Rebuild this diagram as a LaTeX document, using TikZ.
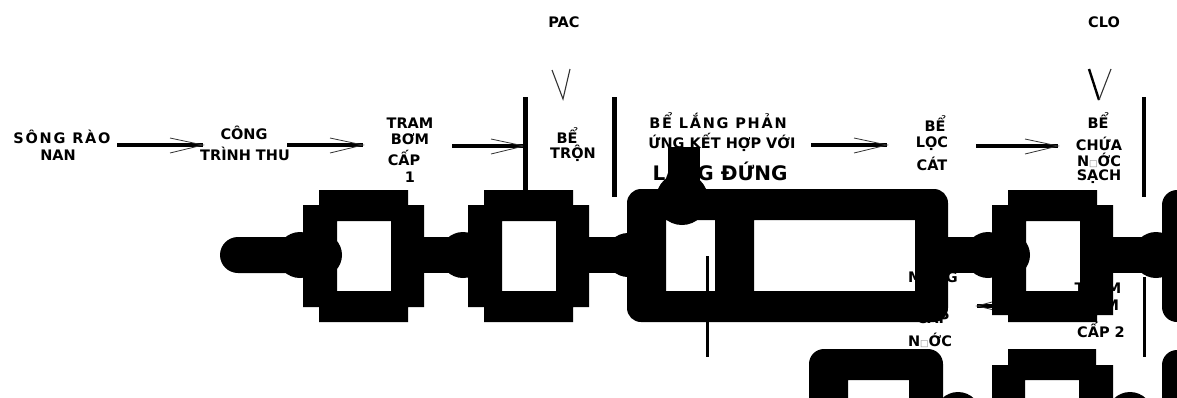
\documentclass[tikz,border=0pt]{standalone}
\usepackage{fontspec}
\newfontfamily\lblfont{DejaVu Sans}
\usetikzlibrary{calc}
\newcommand\boxglyph{{\color{black!45}\fontsize{9}{9}\selectfont □}}
\begin{document}
\begin{tikzpicture}[x=1pt,y=-1pt,
  lbl/.style={font=\lblfont\bfseries\fontsize{14.5}{16}\selectfont, inner sep=0pt, anchor=base},
  widelbl/.style={lbl, font=\lblfont\bfseries\fontsize{14.5}{16}\selectfont\addfontfeatures{LetterSpace=12}},
  biglbl/.style={lbl, font=\lblfont\bfseries\fontsize{20}{22}\selectfont},
  barline/.style={line width=4pt},
  vbar/.style={line width=5pt},
  tipline/.style={line width=0.8pt, draw=black!80},
  blk/.style={fill=black},
  thinv/.style={line width=3pt},
]
\useasboundingbox (0,0) rectangle (1177,397);
\clip (0,0) rectangle (1177,397);

% ---------- labels ----------
\node[widelbl] (song1) at (62,143) {SÔNG RÀO};
\node[lbl] (song2) at (58,160) {NAN};
\node[lbl] (cong1) at (244,139) {CÔNG};
\node[lbl] (cong2) at (245,160) {TRÌNH THU};
\node[lbl] (tram1) at (410,128) {TRAM};
\node[lbl] (tram2) at (410,144) {BƠM};
\node[lbl] (tram3) at (404,165) {CẤP};
\node[lbl] (tram4) at (410,182) {1};
\node[lbl] (pac) at (564,27) {PAC};
\node[lbl] (tron1) at (567,143) {BỂ};
\node[lbl] (tron2) at (573,158) {TRỘN};
\node[widelbl] (lang1) at (718,128) {BỂ LẮNG PHẢN};
\node[lbl] (lang2) at (722,148) {ỨNG KẾT HỢP VỚI};
\node[biglbl] (lang3) at (720,180) {LẮNG ĐỨNG};
\node[lbl] (loc1) at (935,131) {BỂ};
\node[lbl] (loc2) at (932,147) {LỌC};
\node[lbl] (loc3) at (932,170) {CÁT};
\node[lbl] (clo) at (1104,27) {CLO};
\node[lbl] (chua1) at (1098,128) {BỂ};
\node[lbl] (chua2) at (1099,150) {CHỨA};
\node[lbl] (chua3) at (1099,166) {N\boxglyph ỚC};
\node[lbl] (chua4) at (1099,180) {SẠCH};
\node[lbl] (mang1) at (933,282) {MẠNG};
\node[lbl] (mang2) at (933,323) {CẤP};
\node[lbl] (mang3) at (930,346) {N\boxglyph ỚC};
\node[lbl] (bom1) at (1098,293) {TRẠM};
\node[lbl] (bom2) at (1100,310) {BƠM};
\node[lbl] (bom3) at (1101,337) {CẤP 2};

% ---------- arrows ----------
\coordinate (a1s) at (117,145); \coordinate (a1e) at (203,145);
\coordinate (a2s) at (287,145); \coordinate (a2e) at (363,145);
\coordinate (a3s) at (452,146); \coordinate (a3e) at (524,146);
\coordinate (a4s) at (811,145); \coordinate (a4e) at (887,145);
\coordinate (a5s) at (976,146); \coordinate (a5e) at (1058,146);
\foreach \s/\e in {a1s/a1e,a2s/a2e,a3s/a3e,a4s/a4e,a5s/a5e}{
  \draw[barline] (\s) -- (\e);
  \draw[tipline] ($(\e)+(-33,-7)$) -- (\e) -- ($(\e)+(-33,8)$);
}
\coordinate (a6s) at (1070,306); \coordinate (a6e) at (977,306);
\draw[barline] (a6s) -- (a6e);
\draw[tipline] ($(a6e)+(30,-8)$) -- (a6e) -- ($(a6e)+(30,7)$);

% chemical dosing marks
\coordinate (pacv) at (563,99);
\draw[tipline, line width=1.1pt] (552,70) -- (pacv) -- (570,69);
\coordinate (clov) at (1099,100);
\draw[line width=2.4pt] (1089,69) -- (clov);
\draw[tipline, line width=1.1pt] (clov) -- (1111,69);

% vertical bars
\coordinate (v1t) at (525,97); \coordinate (v1b) at (525,190);
\coordinate (v2t) at (614,97); \coordinate (v2b) at (614,197);
\coordinate (v3t) at (1144,97); \coordinate (v3b) at (1144,197);
\draw[vbar] (v1t) -- (v1b);
\draw[vbar] (v2t) -- (v2b);
\draw[line width=4pt] (v3t) -- (v3b);

% ---------- heavy black shapes ----------
% left pill
\fill[blk, rounded corners=18pt] (220,237) rectangle (305,273);
% stepped squares (top row)
\foreach \x/\b in {303/307, 468/307, 992/315}{
  \fill[blk, even odd rule]
    (\x+16,190) -- (\x+105,190) -- (\x+105,205) -- (\x+121,205) -- (\x+121,\b)
    -- (\x+105,\b) -- (\x+105,322) -- (\x+16,322) -- (\x+16,\b) -- (\x,\b)
    -- (\x,205) -- (\x+16,205) -- cycle
    (\x+34,221) rectangle (\x+88,291);
}
% bands
\fill[blk] (424,237) rectangle (468,273);
\fill[blk] (589,237) rectangle (630,273);
\fill[blk] (948,237) rectangle (992,273);
\fill[blk] (1113,237) rectangle (1165,273);
% big rounded rectangle
\fill[blk, even odd rule] [rounded corners=14pt] (627,189) rectangle (948,322)
   [sharp corners] (666,220) rectangle (715,291) (754,220) rectangle (915,291);
% right rounded shapes
\fill[blk, rounded corners=15pt] (1162,190) rectangle (1210,322);
\fill[blk, rounded corners=15pt] (1162,350) rectangle (1210,440);
% joint circles
\foreach \cx/\r in {300/23, 320/22, 463/23, 628/22, 988/23, 1008/22, 1156/23}{
  \fill[blk] (\cx,255) circle (\r);
}
% knob
\fill[blk] (668,147) rectangle (700,185);
\fill[blk] (682,199) circle (26);
% bottom row
\fill[blk, even odd rule] [rounded corners=15pt] (809,349) rectangle (943,450)
   [sharp corners] (848,380) rectangle (909,450);
\fill[blk, even odd rule] (1008,349) -- (1096,349) -- (1096,365) -- (1113,365)
   -- (1113,450) -- (992,450) -- (992,365) -- (1008,365) -- cycle
   (1025,380) rectangle (1079,450);
\fill[blk] (958,415) circle (23);
\fill[blk] (1130,415) circle (23);

% thin verticals
\coordinate (t1t) at (707,256); \coordinate (t1b) at (707,357);
\coordinate (t2t) at (1144,277); \coordinate (t2b) at (1144,357);
\draw[thinv] (t1t) -- (t1b);
\draw[thinv] (t2t) -- (t2b);
\end{tikzpicture}
\end{document}
